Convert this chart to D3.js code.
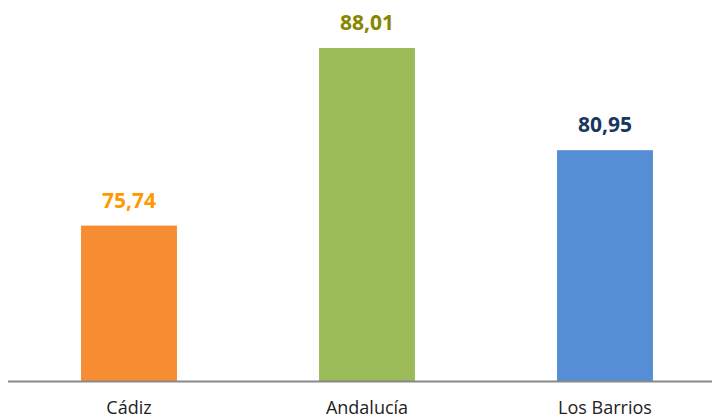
<!DOCTYPE html>
<html><head><meta charset="utf-8">
<script src="https://cdn.jsdelivr.net/npm/d3@7"></script>
<style>body{margin:0;background:#fff}svg{display:block}</style>
</head><body>
<script>
const categories = ["Cádiz", "Andalucía", "Los Barrios"];
const values = [75.74, 88.01, 80.95];
const barColors = ["#F78D32", "#9BBB59", "#558ED5"];
const labelColors = ["#FF9900", "#868600", "#17375E"];
const yDomain = [65, 90];

const W = 712, H = 416;
const svg = d3.select("body").append("svg").attr("width", W).attr("height", H);
const x = d3.scaleBand().domain(categories).range([10, 724]).paddingInner(0.597).paddingOuter(0.2985);
const y = d3.scaleLinear().domain(yDomain).range([381, 19.2]);

svg.selectAll("rect.bar").data(values).enter().append("rect")
  .attr("class", "bar")
  .attr("x", (d, i) => x(categories[i]))
  .attr("width", x.bandwidth())
  .attr("y", d => y(d))
  .attr("height", d => y(yDomain[0]) - y(d))
  .attr("fill", (d, i) => barColors[i]);

const fmt = d => d.toFixed(2).replace(".", ",");
svg.selectAll("text.val").data(values).enter().append("text")
  .attr("class", "val")
  .attr("x", (d, i) => x(categories[i]) + x.bandwidth() / 2)
  .attr("y", d => y(d) - 18)
  .attr("text-anchor", "middle")
  .attr("font-family", "Open Sans")
  .attr("font-weight", "bold")
  .attr("font-size", 21)
  .attr("fill", (d, i) => labelColors[i])
  .text(fmt);

const axis = d3.axisBottom(x).tickSize(0).tickPadding(0);
const g = svg.append("g").attr("transform", `translate(0,${y(yDomain[0])})`).call(axis);
g.select(".domain").attr("stroke", "#888").attr("stroke-width", 2).attr("d", "M8,0.5H712");
g.selectAll(".tick text")
  .attr("font-family", "Open Sans")
  .attr("font-size", 18)
  .attr("fill", "#222")
  .attr("dy", null)
  .attr("y", 33);
</script>
</body></html>
